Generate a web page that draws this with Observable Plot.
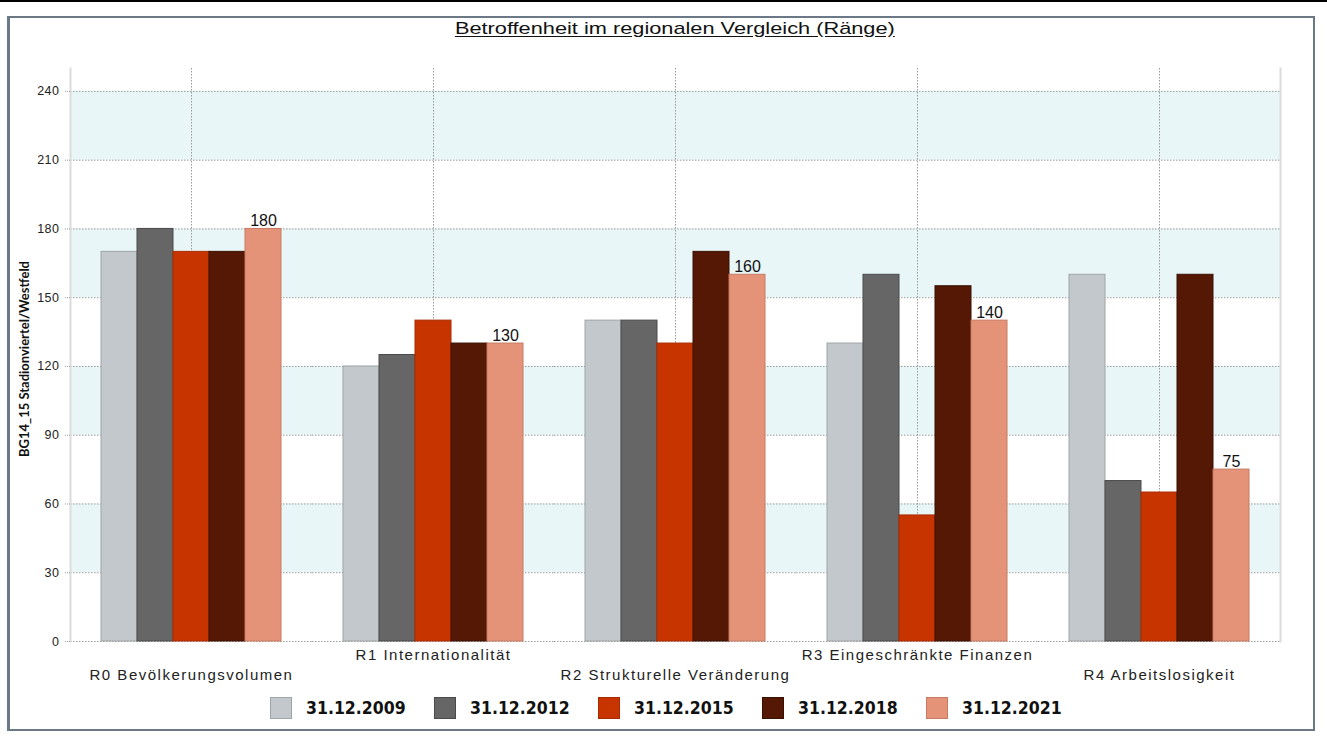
<!DOCTYPE html>
<html><head><meta charset="utf-8">
<script src="https://cdn.jsdelivr.net/npm/d3@7"></script>
<script src="https://cdn.jsdelivr.net/npm/@observablehq/plot@0.6"></script>
<style>
html,body{margin:0;padding:0;background:#fff}
body{width:1327px;height:740px;position:relative;overflow:hidden;font-family:"Liberation Sans",Arial,sans-serif}
#topline{position:absolute;left:0;top:0;width:1327px;height:2px;background:#000}
#frame{position:absolute;left:7px;top:16px;width:1303px;height:711px;border:2px solid #6b7885;border-left-width:3px}
#chart{position:absolute;left:0;top:0}
#title{position:absolute;left:0;width:1349px;top:19px;text-align:center;font-size:17px;line-height:20px;color:#111}
#title span{display:inline-block;transform:scaleX(1.28);text-decoration:underline;text-underline-offset:2px}
#legend{position:absolute;top:697px;left:270px;display:flex}
.item{width:164px;display:flex;align-items:center;height:22px}
.sw{width:20px;height:20px;border:1px solid;margin-right:14px;flex:none}
.lab{font-family:"DejaVu Sans Condensed","DejaVu Sans",sans-serif;font-weight:bold;font-size:17.5px;color:#111}
g[aria-label="fx-axis tick label"] text{letter-spacing:1.5px}
g[aria-label="y-axis tick label"] text{letter-spacing:0.5px}
</style>
</head><body>
<div id="topline"></div>
<div id="frame"></div>
<div id="chart"></div>
<div id="title"><span>Betroffenheit im regionalen Vergleich (Ränge)</span></div>
<div id="legend"></div>
<script>
const categories = ["R0 Bevölkerungsvolumen","R1 Internationalität","R2 Strukturelle Veränderung","R3 Eingeschränkte Finanzen","R4 Arbeitslosigkeit"];
const seriesNames = ["31.12.2009","31.12.2012","31.12.2015","31.12.2018","31.12.2021"];
const values2009 = [170,120,140,130,160];
const values2012 = [180,125,140,160,70];
const values2015 = [170,140,130,55,65];
const values2018 = [170,130,170,155,160];
const values2021 = [180,130,160,140,75];
const yTicks = [0,30,60,90,120,150,180,210,240];
const yLabel = "BG14_15 Stadionviertel/Westfeld";
const fills = ["#c3c8cc","#666666","#c83400","#541805","#e59378"];
const strokes = ["#9fa4a7","#4a4a4a","#a82c00","#3a1003","#c87a62"];

const seriesValues = [values2009, values2012, values2015, values2018, values2021];
const rows = categories.flatMap((c, i) => seriesNames.map((s, j) => ({category: c, series: s, value: seriesValues[j][i]})));
const bands = yTicks.slice(0, -1).map((t, i) => ({lo: t, hi: yTicks[i + 1], shaded: i % 2 === 1})).filter(d => d.shaded);
const lastSeries = seriesNames[seriesNames.length - 1];

const chart = Plot.plot({
  width: 1327, height: 690,
  marginLeft: 68, marginRight: 46, marginTop: 68, marginBottom: 49,
  style: {fontFamily: "'Liberation Sans', Arial, sans-serif", fontSize: "12px", color: "#222", background: "transparent"},
  fx: {domain: categories, padding: 0, label: null, axis: null},
  x: {domain: seriesNames, paddingInner: 0, paddingOuter: 0.85, axis: null},
  y: {domain: [0, 250], axis: null},
  marks: [
    Plot.rect(bands, {y1: "lo", y2: "hi", fill: "#e8f6f8"}),
    Plot.ruleY(yTicks, {stroke: "#9a9a9a", strokeDasharray: "1.5,1.5"}),
    Plot.gridFx({stroke: "#999", strokeOpacity: 1, strokeDasharray: "1.5,1.5"}),
    Plot.frame({anchor: "left", facetAnchor: "left", stroke: "#dcdcdc", strokeWidth: 2}),
    Plot.frame({anchor: "right", facetAnchor: "right", stroke: "#dcdcdc", strokeWidth: 2}),
    ...seriesNames.map((s, j) => Plot.barY(rows.filter(r => r.series === s), {
      fx: "category", x: "series", y: "value", fill: fills[j], stroke: strokes[j], strokeWidth: 1
    })),
    Plot.text(rows.filter(r => r.series === lastSeries), {
      fx: "category", x: "series", y: "value", text: d => String(d.value),
      lineAnchor: "bottom", dy: -3, fontSize: 16, fill: "#111"
    }),
    Plot.axisY({ticks: yTicks, tickSize: 6, tickPadding: 5, fontSize: 12.5, label: null, stroke: "#999", strokeDasharray: "1,1", fill: "#222"}),
    Plot.axisFx({ticks: categories.filter((c, i) => i % 2 === 0), anchor: "bottom", tickSize: 0, tickPadding: 28, fontSize: 15, label: null, fill: "#222"}),
    Plot.axisFx({ticks: categories.filter((c, i) => i % 2 === 1), anchor: "bottom", tickSize: 0, tickPadding: 8, fontSize: 15, label: null, fill: "#222"}),
    Plot.text([yLabel], {frameAnchor: "left", facetAnchor: "left", textAnchor: "middle", rotate: -90, dx: -46, dy: 4, text: d => d,
      fontFamily: "Lato, sans-serif", fontWeight: "bold", fontSize: 13, fill: "#111"})
  ]
});
document.getElementById("chart").appendChild(chart);

const legend = document.getElementById("legend");
seriesNames.forEach((s, j) => {
  const it = document.createElement("div");
  it.className = "item";
  it.innerHTML = `<div class="sw" style="background:${fills[j]};border-color:${strokes[j]}"></div><div class="lab">${s}</div>`;
  legend.appendChild(it);
});
</script>
</body></html>
